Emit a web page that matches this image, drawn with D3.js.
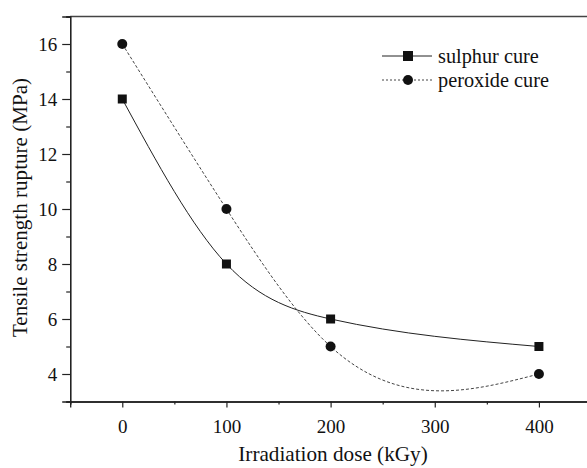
<!DOCTYPE html>
<html><head><meta charset="utf-8">
<script src="https://cdn.jsdelivr.net/npm/d3@7"></script>
<style>body{margin:0;background:#fff;}</style>
</head><body><svg id="c" width="587" height="468"></svg>
<script>
const doses = [0, 100, 200, 400];
const sulphur = [14, 8, 6, 5];
const peroxide = [16, 10, 5, 4];
const xTicks = [0, 100, 200, 300, 400];
const yTicks = [4, 6, 8, 10, 12, 14, 16];
const seriesNames = ["sulphur cure", "peroxide cure"];

const FONT = "Liberation Serif";
const svg = d3.select("#c");
const W = 587;
const x = d3.scaleLinear().domain([-50, 450]).range([70.2, 591]);
const y = d3.scaleLinear().domain([3, 17]).range([401.5, 16.5]);
const col = "#111";

// natural cubic spline y(x) as a custom d3 curve
function curveSplineX(context) {
  let pts = [];
  return {
    areaStart(){}, areaEnd(){},
    lineStart(){ pts = []; },
    point(px, py){ pts.push([px, py]); },
    lineEnd(){
      const n = pts.length;
      if (!n) return;
      context.moveTo(pts[0][0], pts[0][1]);
      if (n < 3) { for (let i = 1; i < n; i++) context.lineTo(pts[i][0], pts[i][1]); return; }
      const h = [], M = new Array(n).fill(0);
      for (let i = 0; i < n - 1; i++) h.push(pts[i+1][0] - pts[i][0]);
      const a = [], b = [], c = [], d = [];
      for (let i = 1; i < n - 1; i++) {
        a.push(h[i-1]); b.push(2 * (h[i-1] + h[i])); c.push(h[i]);
        d.push(6 * ((pts[i+1][1] - pts[i][1]) / h[i] - (pts[i][1] - pts[i-1][1]) / h[i-1]));
      }
      const k = b.length;
      for (let i = 1; i < k; i++) { const w = a[i] / b[i-1]; b[i] -= w * c[i-1]; d[i] -= w * d[i-1]; }
      const sol = new Array(k);
      sol[k-1] = d[k-1] / b[k-1];
      for (let i = k - 2; i >= 0; i--) sol[i] = (d[i] - c[i] * sol[i+1]) / b[i];
      for (let i = 0; i < k; i++) M[i+1] = sol[i];
      for (let i = 0; i < n - 1; i++) {
        const [x0, y0] = pts[i], [x1, y1] = pts[i+1], hi = h[i];
        const s0 = (y1 - y0) / hi - hi * (2 * M[i] + M[i+1]) / 6;
        const s1 = (y1 - y0) / hi + hi * (M[i] + 2 * M[i+1]) / 6;
        context.bezierCurveTo(x0 + hi / 3, y0 + s0 * hi / 3, x1 - hi / 3, y1 - s1 * hi / 3, x1, y1);
      }
    }
  };
}

// top border
svg.append("line").attr("x1", x(-50)).attr("x2", W).attr("y1", y(17)).attr("y2", y(17))
  .attr("stroke", "#444").attr("stroke-width", 1.5);

// x axis
const gx = svg.append("g").attr("transform", `translate(0,${y(3)})`);
gx.call(d3.axisBottom(x).tickValues(xTicks).tickSize(6).tickPadding(12).tickFormat(d3.format("d")));
gx.append("g").call(d3.axisBottom(x).tickValues(d3.range(-50, 451, 100)).tickSize(3).tickFormat(""));
gx.attr("font-family", FONT);
gx.selectAll("text").attr("font-family", FONT).attr("font-size", 19).attr("fill", "#111");
gx.selectAll("path.domain").attr("stroke", "#222").attr("stroke-width", 1.3);
gx.selectAll(".tick line").attr("stroke", "#222").attr("stroke-width", 1.2);

// y axis
const gy = svg.append("g").attr("transform", `translate(${x(-50)},0)`);
gy.call(d3.axisLeft(y).tickValues(yTicks).tickSize(8).tickPadding(5));
gy.append("g").call(d3.axisLeft(y).tickValues(d3.range(3, 17.1, 2)).tickSize(4).tickFormat(""));
gy.attr("font-family", FONT);
gy.selectAll("text").attr("font-family", FONT).attr("font-size", 19).attr("fill", "#111");
gy.selectAll("path.domain").attr("stroke", "#222").attr("stroke-width", 1.3);
gy.selectAll(".tick line").attr("stroke", "#222").attr("stroke-width", 1.2);

// titles
svg.append("text").attr("x", 333).attr("y", 461).attr("text-anchor", "middle")
  .attr("font-family", FONT).attr("font-size", 21.2).attr("fill", "#111").text("Irradiation dose (kGy)");
svg.append("text").attr("transform", `translate(26.5,207.5) rotate(-90)`)
  .attr("text-anchor", "middle").attr("font-family", FONT).attr("font-size", 21.1).attr("fill", "#111")
  .text("Tensile strength rupture (MPa)");

const line = d3.line().x(d => x(d[0])).y(d => y(d[1])).curve(curveSplineX);
const sData = doses.map((d, i) => [d, sulphur[i]]);
const pData = doses.map((d, i) => [d, peroxide[i]]);

svg.append("path").attr("d", line(sData)).attr("fill", "none").attr("stroke", "#222").attr("stroke-width", 1);
svg.append("path").attr("d", line(pData)).attr("fill", "none").attr("stroke", "#444").attr("stroke-width", 1)
  .attr("stroke-dasharray", "3,2");

svg.selectAll(".sq").data(sData).enter().append("rect")
  .attr("x", d => x(d[0]) - 4.5).attr("y", d => y(d[1]) - 4.5).attr("width", 9).attr("height", 9).attr("fill", col);
svg.selectAll(".ci").data(pData).enter().append("circle")
  .attr("cx", d => x(d[0])).attr("cy", d => y(d[1])).attr("r", 5).attr("fill", col);

// legend
const lg = svg.append("g").attr("font-family", FONT);
lg.append("line").attr("x1", 382).attr("x2", 432).attr("y1", 56).attr("y2", 56).attr("stroke", "#222");
lg.append("rect").attr("x", 403).attr("y", 51).attr("width", 10).attr("height", 10).attr("fill", col);
lg.append("text").attr("x", 438).attr("y", 63).attr("font-size", 20.3).attr("fill", "#111").text(seriesNames[0]);
lg.append("line").attr("x1", 382).attr("x2", 432).attr("y1", 80).attr("y2", 80).attr("stroke", "#444").attr("stroke-dasharray", "2,2");
lg.append("circle").attr("cx", 408).attr("cy", 80).attr("r", 5).attr("fill", col);
lg.append("text").attr("x", 438).attr("y", 87).attr("font-size", 20.3).attr("fill", "#111").text(seriesNames[1]);
</script></body></html>
